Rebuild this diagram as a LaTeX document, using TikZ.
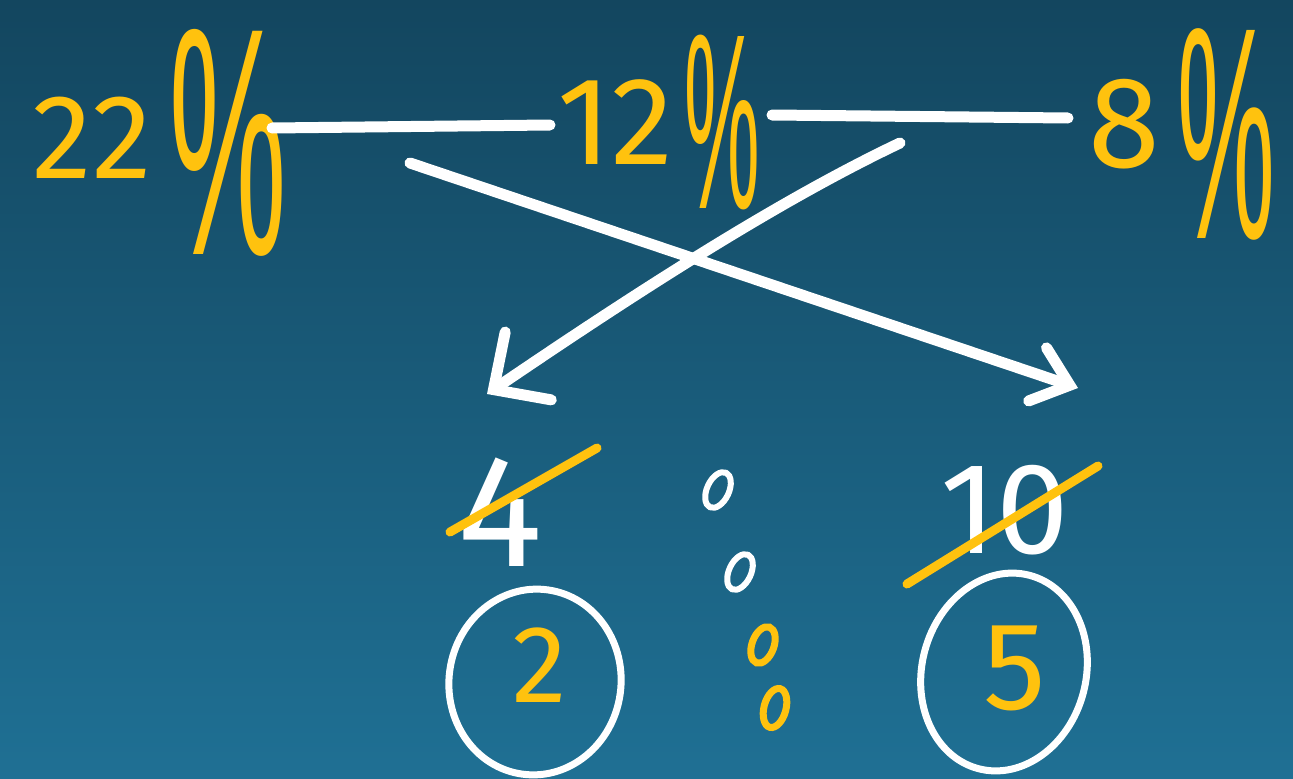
\documentclass[tikz,border=0pt]{standalone}
\usepackage{fontspec}
\setmainfont{Fira Sans}
\newfontfamily\pctfont{Liberation Sans}
\usetikzlibrary{arrows.meta}
\definecolor{bgtop}{HTML}{13465F}
\definecolor{bgbot}{HTML}{1F7094}
\definecolor{chalkyellow}{HTML}{FFC20E}
\newcommand{\fs}[1]{\fontsize{#1}{#1}\selectfont}
\newcommand{\pct}[2]{{\pctfont\scalebox{#1}[#2]{\%}}}
\tikzset{
  yel/.style={text=chalkyellow, inner sep=0pt},
  wht/.style={text=white, inner sep=0pt},
  wline/.style={draw=white, line width=11pt, line cap=round},
  ystrike/.style={draw=chalkyellow, line width=9pt, line cap=round},
  wring/.style={draw=white, line width=7pt},
  wdot/.style={draw=white, line width=6pt},
  ydot/.style={draw=chalkyellow, line width=7pt},
}
\begin{document}
\begin{tikzpicture}[x=1pt,y=-1pt]
\shade[top color=bgtop, bottom color=bgbot] (0,0) rectangle (1293,779);
\useasboundingbox (0,0) rectangle (1293,779);

% top row
\node[yel] (n22) at (92,138) {\fs{120}22};
\node[yel] (p22) at (228,143) {\fs{110}\pct{1.2}{2.95}};
\node[yel] (n12) at (615,122) {\fs{125}12};
\node[yel] (p12) at (722,122) {\fs{100}\pct{0.85}{2.5}};
\node[yel] (n8) at (1124,124) {\fs{130}8};
\node[yel] (p8) at (1226,134) {\fs{110}\pct{1.0}{2.75}};

\coordinate (l1a) at (272,128);
\coordinate (l1b) at (550,125);
\coordinate (l2a) at (772,115);
\coordinate (l2b) at (1068,118);
\draw[wline] (l1a) -- (l1b);
\draw[wline] (l2a) -- (l2b);

% crossing arrows
\coordinate (s1) at (410,163);
\coordinate (e1) at (1078,388);
\coordinate (s2) at (900,143);
\coordinate (e2) at (487,394);
\draw[wline, -{Straight Barb[length=34pt,width=56pt,line cap=round]}] (s1) -- (e1);
\draw[wline, -{Straight Barb[length=42pt,width=82pt,line cap=round]}] (s2) .. controls (780,200) and (640,290) .. (e2);

% middle row
\node[wht] (n4) at (500,512) {\fs{160}4};
\coordinate (c4a) at (450,532);
\coordinate (c4b) at (597,448);
\draw[ystrike] (c4a) -- (c4b);
\node[wht] (n10) at (1005,510) {\fs{130}10};
\coordinate (c10a) at (907,584);
\coordinate (c10b) at (1098,466);
\draw[ystrike] (c10a) -- (c10b);

% ratio colons
\draw[wdot, rotate around={-25:(718,490)}] (718,490) ellipse (11 and 19);
\draw[wdot, rotate around={-25:(740,572)}] (740,572) ellipse (11 and 19);
\draw[ydot, rotate around={-20:(763,645)}] (763,645) ellipse (11 and 19);
\draw[ydot, rotate around={-15:(775,708)}] (775,708) ellipse (11 and 20);

% bottom row
\node[yel] (n2) at (540,665) {\fs{110}2};
\draw[wring, rotate around={-8:(535,682)}] (535,682) ellipse (86 and 93);
\node[yel] (n5) at (1015,668) {\fs{125}5};
\draw[wring, rotate around={-15:(1004,672)}] (1004,672) ellipse (82 and 100);
\end{tikzpicture}
\end{document}
